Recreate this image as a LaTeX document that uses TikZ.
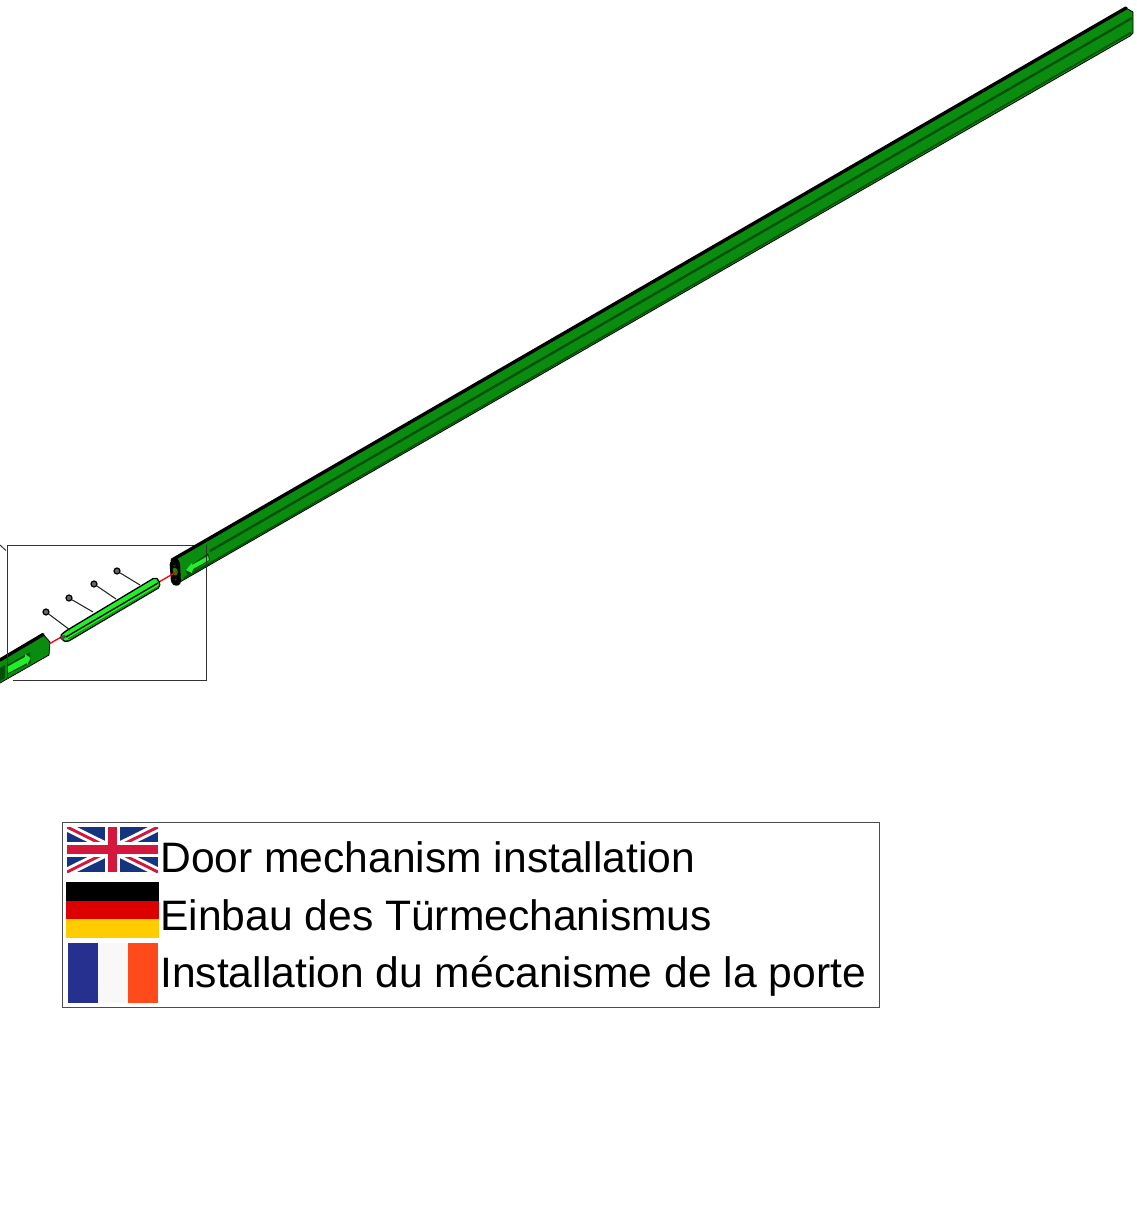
\documentclass[tikz,border=0pt]{standalone}
\usepackage{fontspec}
\setmainfont{Liberation Sans}
\definecolor{railg}{HTML}{0A8C0E}
\definecolor{raild}{HTML}{04500A}
\definecolor{raill}{HTML}{22EE2A}
\definecolor{ukblue}{HTML}{14347F}
\definecolor{ukred}{HTML}{D4173C}
\definecolor{degold}{HTML}{FFCC00}
\definecolor{dered}{HTML}{DD0000}
\definecolor{frblue}{HTML}{25308F}
\definecolor{frwhite}{HTML}{F8F8F8}
\definecolor{frred}{HTML}{FF4A1C}
\definecolor{framegray}{HTML}{333333}
\tikzset{
  railtop/.style={draw=black,line width=2.5pt,line cap=round},
  railgroove/.style={draw=raild,line width=1.8pt},
  pocket/.style={fill=raild,draw=none},
  redaxis/.style={draw=red,line width=1pt},
  screwshaft/.style={draw=black!85,line width=0.8pt},
  screwhead/.style={fill=black!60,draw=black,line width=0.9pt,circle,inner sep=0pt,minimum size=4.5pt},
  framebox/.style={draw=framegray,line width=0.75pt},
  legendbox/.style={draw=black!70,line width=0.6pt},
  legendtext/.style={anchor=base west,inner sep=0pt,font=\fontsize{31.95pt}{32pt}\selectfont,text=black}
}
\begin{document}
\begin{tikzpicture}[x=0.75pt,y=-0.75pt]
\useasboundingbox (0,0) rectangle (1137,1210);
% detail frame (behind rails)
\draw[framebox] (13,680) -- (206,680) -- (206,545) -- (7,545);
\draw[framebox] (0,545) -- (6,550.5);
% long rail
\fill[railg] (172,560) -- (1126,8) -- (1133,12) -- (1133,33) -- (1130,36) -- (180,582) -- (173,582) -- cycle;
\draw[black,line width=0.6pt,line join=round] (1126,8) -- (1133,12) -- (1133,33) -- (1130,36) -- (180,582);
\draw[raild,line width=1.2pt] (1131,32.5) -- (184,578);
\draw[railgroove] (210,551) -- (1132,18);
\draw[railtop] (172,560) -- (1126,8);
% pocket and arrow of long rail
\fill[pocket] (185,570) -- (208,553) -- (210,560) -- (188,575) -- cycle;
\fill[raill] (186,570) -- (192,563) -- (192,565) -- (208,556) -- (209,560) -- (193,569) -- (192,573) -- cycle;
% near end face of long rail
\fill[black,rounded corners=2pt] (169.5,562) -- (176,557.5) -- (180,562) -- (181,584) -- (176,586.5) -- (171,583) -- cycle;
\fill[railg,rounded corners=1pt] (172.5,568) -- (177,568) -- (178,574) -- (174,576) -- cycle;
\fill[raild] (174.5,565.5) circle (1);
\fill[raild] (175.5,579.5) circle (1.2);
% left rail piece
\fill[railg] (0,660) -- (43,634) -- (50,642) -- (49,655) -- (0,683) -- cycle;
\draw[black,line width=0.6pt,line join=round] (43,634) -- (50,642) -- (49,655) -- (0,683);
\draw[railtop] (0,660) -- (43,634.5);
\fill[pocket] (7,665) -- (30,652) -- (31,663) -- (8,674) -- cycle;
\fill[raill] (7,667) -- (25,657) -- (25,654) -- (30.5,658) -- (27,665) -- (27,663) -- (8,673) -- cycle;
\fill[raild] (0,668) -- (5,665) -- (5,678) -- (0,681) -- cycle;
% red axis lines
\draw[redaxis] (49,644) -- (63,636);
% frame verticals showing over rails
\draw[framebox] (7,545) -- (7,679);
\draw[framebox] (206,545) -- (206,570);
\draw[redaxis] (159,582) -- (177,571.5);
% central insert
\fill[raill,draw=black,line width=1pt,line join=round,rounded corners=1.5pt] (60,636) -- (65,631.5) -- (155,577.5) -- (159,580) -- (160,587) -- (67,642) -- (62,640) -- cycle;
\draw[black,line width=1pt] (66,637) -- (158,583);
\fill[black!70] (60.5,636) -- (65,635) -- (66,637) -- (62,640) -- cycle;
\fill[green!60!black] (69,639.5) -- (158,587) -- (159,585.5) -- (68,638.5) -- cycle;
% screws
\coordinate (sa) at (70,630); \coordinate (sb) at (93,612); \coordinate (sc) at (116,599); \coordinate (sd) at (140,585);
\node[screwhead] (ha) at (46,612) {};
\node[screwhead] (hb) at (69,598) {};
\node[screwhead] (hc) at (94,584) {};
\node[screwhead] (hd) at (117,571) {};
\draw[screwshaft] (ha) -- (sa);
\draw[screwshaft] (hb) -- (sb);
\draw[screwshaft] (hc) -- (sc);
\draw[screwshaft] (hd) -- (sd);
% legend box
\draw[legendbox] (62,822) rectangle (879,1007);
% UK flag
\begin{scope}
\clip (67,827) rectangle (158,872);
\fill[ukblue] (67,827) rectangle (158,872);
\draw[white,line width=6.5pt] (67,827) -- (158,872) (67,872) -- (158,827);
\draw[ukred,line width=2.2pt] (67,827) -- (158,872) (67,872) -- (158,827);
\draw[white,line width=11pt] (112.5,827) -- (112.5,872) (67,849.5) -- (158,849.5);
\draw[ukred,line width=7pt] (112.5,827) -- (112.5,872) (67,849.5) -- (158,849.5);
\end{scope}
% German flag
\fill[black] (66,882) rectangle (159,900.5);
\fill[dered] (66,900.5) rectangle (159,919);
\fill[degold] (66,919) rectangle (159,938);
% French flag
\fill[frblue] (68,943) rectangle (98,1003);
\fill[frwhite] (98,943) rectangle (128,1003);
\fill[frred] (128,943) rectangle (158,1003);
% legend text
\node[legendtext] (ten) at (160,872) {Door mechanism installation};
\node[legendtext] (tde) at (160,930) {Einbau des Türmechanismus};
\node[legendtext] (tfr) at (160,987.5) {Installation du mécanisme de la porte};
\end{tikzpicture}
\end{document}
